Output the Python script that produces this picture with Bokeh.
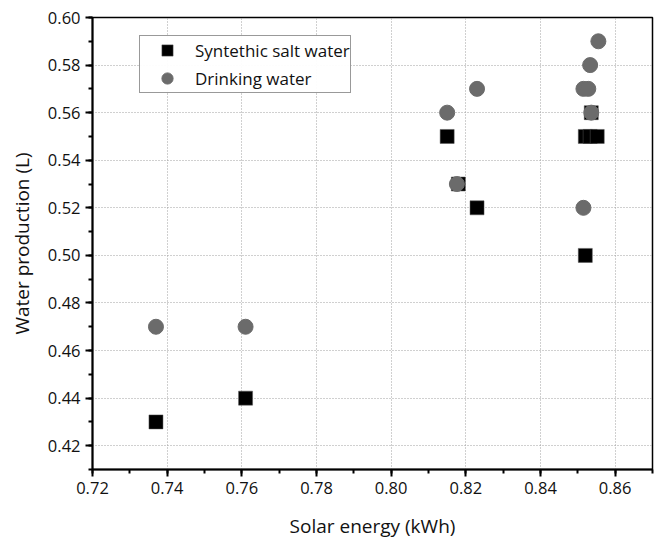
from bokeh.plotting import figure
from bokeh.models import SingleIntervalTicker, NumeralTickFormatter, Range1d, Legend, LegendItem
from bokeh.embed import file_html
from bokeh.resources import INLINE

salt_x = [0.737, 0.761, 0.815, 0.818, 0.823, 0.852, 0.852, 0.8533, 0.8552, 0.8536]
salt_y = [0.43, 0.44, 0.55, 0.53, 0.52, 0.50, 0.55, 0.55, 0.55, 0.56]
drink_x = [0.737, 0.761, 0.815, 0.823, 0.8176, 0.8515, 0.8515, 0.8528, 0.8533, 0.8555, 0.8536]
drink_y = [0.47, 0.47, 0.56, 0.57, 0.53, 0.52, 0.57, 0.57, 0.58, 0.59, 0.56]

FONT = "Open Sans"

p = figure(width=654, height=545, output_backend="svg", toolbar_location=None,
           x_range=Range1d(0.72, 0.87), y_range=Range1d(0.41, 0.60),
           min_border_left=92, min_border_right=2, min_border_top=17, min_border_bottom=76)
p.background_fill_color = "white"
p.border_fill_color = "white"
p.outline_line_color = "black"
p.outline_line_width = 1.5

r1 = p.scatter(salt_x, salt_y, marker="square", size=14, fill_color="black",
               line_color="#555555", line_width=0.5)
r2 = p.scatter(drink_x, drink_y, marker="circle", size=15, fill_color="#6b6b6b",
               line_color="#6b6b6b")

for ax in (p.xaxis, p.yaxis):
    ax.ticker = SingleIntervalTicker(interval=0.02, num_minor_ticks=2)
    ax.formatter = NumeralTickFormatter(format="0.00")
    ax.axis_line_width = 2
    ax.axis_line_color = "black"
    ax.major_tick_line_width = 2
    ax.minor_tick_line_width = 2
    ax.major_tick_out = 7
    ax.major_tick_in = 0
    ax.minor_tick_out = 4
    ax.minor_tick_in = 0
    ax.major_label_text_font = FONT
    ax.major_label_text_font_size = "16.5px"
    ax.major_label_text_color = "#111111"
    ax.axis_label_text_font = FONT
    ax.axis_label_text_font_size = "19px"
    ax.axis_label_text_font_style = "normal"
    ax.axis_label_text_color = "#111111"

p.xaxis.axis_label = "Solar energy (kWh)"
p.yaxis.axis_label = "Water production (L)"
p.xaxis.axis_label_standoff = 16
p.yaxis.axis_label_standoff = 10

for g in (p.xgrid, p.ygrid):
    g.grid_line_color = "#a0a0a0"
    g.grid_line_dash = "1 2"
    g.grid_line_width = 1

legend = Legend(items=[LegendItem(label="Syntethic salt water", renderers=[r1]),
                       LegendItem(label="Drinking water", renderers=[r2])],
                location=(47, 376))
legend.label_text_font = FONT
legend.label_text_font_size = "17px"
legend.label_text_color = "#111111"
legend.border_line_color = "#333333"
legend.border_line_width = 1
legend.padding = 0
legend.spacing = -1
legend.glyph_width = 54
legend.glyph_height = 28
legend.label_height = 20
legend.label_standoff = 1
legend.margin = 0
p.add_layout(legend, "center")

open("out.html", "w").write(file_html(p, INLINE))
